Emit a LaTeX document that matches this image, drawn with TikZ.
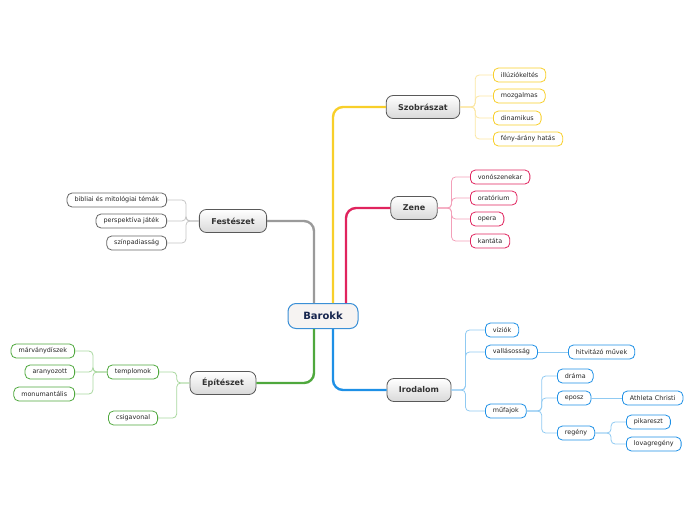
\documentclass[tikz,border=0pt]{standalone}
\usepackage{fontspec}
\setmainfont{DejaVu Sans}
\usetikzlibrary{positioning, calc}

\definecolor{rootblue}{HTML}{3A8FD6}
\definecolor{rootfill}{HTML}{F6F3F2}
\definecolor{navy}{HTML}{17264F}
\definecolor{ylw}{HTML}{F8CF2A}
\definecolor{ylwl}{HTML}{FBE6A2}
\definecolor{pnk}{HTML}{E0245E}
\definecolor{pnkl}{HTML}{F3A0B9}
\definecolor{gry}{HTML}{9A9A9A}
\definecolor{gryl}{HTML}{C4C4C4}
\definecolor{grn}{HTML}{4FA83D}
\definecolor{grnl}{HTML}{A8D79E}
\definecolor{blu}{HTML}{1E90E6}
\definecolor{blul}{HTML}{90CAF2}

\begin{document}
\begin{tikzpicture}[
      x=1pt, y=-1pt,
      root/.style={rounded corners=8pt, draw=rootblue, line width=1pt, fill=rootfill,
        text=navy, font=\bfseries\fontsize{10}{12}\selectfont,
        minimum width=70pt, minimum height=25pt},
      topic/.style={rounded corners=7pt, draw=black!65, line width=0.8pt,
        top color=white, bottom color=black!15, text=black!80,
        font=\bfseries\fontsize{8}{10}\selectfont, minimum height=23pt, inner xsep=12pt},
      leaf/.style={rounded corners=5pt, fill=white, line width=0.8pt, text=black!85,
        font=\fontsize{6.4}{7}\selectfont, minimum height=14pt, inner xsep=7.5pt, inner ysep=0pt},
      main/.style={line width=2.4pt, rounded corners=10pt},
      twig/.style={line width=0.8pt, rounded corners=4pt}
    ]
      \useasboundingbox (0,0) rectangle (696,520);

      % central topic and main branches
      \node[root] (barokk) at (323,316) {Barokk};
      \node[topic] (szob) at (423,107) {Szobrászat};
      \node[topic] (zene) at (414,208) {Zene};
      \node[topic] (fest) at (233,221) {Festészet};
      \node[topic] (epit) at (223,383) {Építészet};
      \node[topic] (irod) at (419,390) {Irodalom};

      \draw[main, ylw] ($(barokk.north)+(10,0)$) |- (szob.west);
      \draw[main, pnk] ($(barokk.north)+(23,0)$) |- (zene.west);
      \draw[main, gry] (fest.east) -| ($(barokk.north)+(-9,0)$);
      \draw[main, grn] ($(barokk.south)+(-9,0)$) |- (epit.east);
      \draw[main, blu] ($(barokk.south)+(10,0)$) |- (irod.west);

      % Szobrászat
      \node[leaf, draw=ylw, anchor=west] (illuz) at (493,75) {illúziókeltés};
      \node[leaf, draw=ylw, anchor=west] (mozg) at (493,96) {mozgalmas};
      \node[leaf, draw=ylw, anchor=west] (dinam) at (493,118) {dinamikus};
      \node[leaf, draw=ylw, anchor=west] (feny) at (493,139) {fény-árány hatás};
      \draw[twig, ylwl] (szob.east) -- ++(15,0) |- (illuz.west);
      \draw[twig, ylwl] (szob.east) -- ++(15,0) |- (mozg.west);
      \draw[twig, ylwl] (szob.east) -- ++(15,0) |- (dinam.west);
      \draw[twig, ylwl] (szob.east) -- ++(15,0) |- (feny.west);

      % Zene
      \node[leaf, draw=pnk, anchor=west] (vono) at (470,177) {vonószenekar};
      \node[leaf, draw=pnk, anchor=west] (orat) at (470,198) {oratórium};
      \node[leaf, draw=pnk, anchor=west] (opera) at (470,219) {opera};
      \node[leaf, draw=pnk, anchor=west] (kant) at (470,241) {kantáta};
      \draw[twig, pnkl] (zene.east) -- ++(14,0) |- (vono.west);
      \draw[twig, pnkl] (zene.east) -- ++(14,0) |- (orat.west);
      \draw[twig, pnkl] (zene.east) -- ++(14,0) |- (opera.west);
      \draw[twig, pnkl] (zene.east) -- ++(14,0) |- (kant.west);

      % Festészet
      \node[leaf, draw=black!60, anchor=east] (bibl) at (167,200) {bibliai és mitológiai témák};
      \node[leaf, draw=black!60, anchor=east] (persp) at (167,221) {perspektíva játék};
      \node[leaf, draw=black!60, anchor=east] (szinp) at (167,243) {színpadiasság};
      \draw[twig, gryl] (fest.west) -- ++(-13,0) |- (bibl.east);
      \draw[twig, gryl] (fest.west) -- ++(-13,0) |- (persp.east);
      \draw[twig, gryl] (fest.west) -- ++(-13,0) |- (szinp.east);

      % Építészet
      \node[leaf, draw=grn, anchor=east] (templ) at (159,372) {templomok};
      \node[leaf, draw=grn, anchor=east] (csiga) at (158,418) {csigavonal};
      \node[leaf, draw=grn, anchor=east] (marv) at (75,351) {márványdíszek};
      \node[leaf, draw=grn, anchor=east] (arany) at (75,372) {aranyozott};
      \node[leaf, draw=grn, anchor=east] (monum) at (75,394) {monumantális};
      \draw[twig, grnl] (epit.west) -- ++(-13,0) |- (templ.east);
      \draw[twig, grnl] (epit.west) -- ++(-13,0) |- (csiga.east);
      \draw[twig, grnl] (templ.west) -- ++(-14,0) |- (marv.east);
      \draw[twig, grnl] (templ.west) -- ++(-14,0) |- (arany.east);
      \draw[twig, grnl] (templ.west) -- ++(-14,0) |- (monum.east);

      % Irodalom
      \node[leaf, draw=blu, anchor=west] (vizio) at (485,330) {víziók};
      \node[leaf, draw=blu, anchor=west] (vall) at (485,352) {vallásosság};
      \node[leaf, draw=blu, anchor=west] (mufaj) at (485,411) {műfajok};
      \node[leaf, draw=blu, anchor=west] (hitv) at (568,352) {hitvitázó művek};
      \node[leaf, draw=blu, anchor=west] (drama) at (557,376) {dráma};
      \node[leaf, draw=blu, anchor=west] (eposz) at (557,398) {eposz};
      \node[leaf, draw=blu, anchor=west] (regeny) at (557,433) {regény};
      \node[leaf, draw=blu, anchor=west] (athleta) at (622,398) {Athleta Christi};
      \node[leaf, draw=blu, anchor=west] (pikar) at (626,422) {pikareszt};
      \node[leaf, draw=blu, anchor=west] (lovag) at (626,444) {lovagregény};
      \draw[twig, blul] (irod.east) -- ++(14,0) |- (vizio.west);
      \draw[twig, blul] (irod.east) -- ++(14,0) |- (vall.west);
      \draw[twig, blul] (irod.east) -- ++(14,0) |- (mufaj.west);
      \draw[twig, blul] (vall.east) -- (hitv.west);
      \draw[twig, blul] (mufaj.east) -- ++(15,0) |- (drama.west);
      \draw[twig, blul] (mufaj.east) -- ++(15,0) |- (eposz.west);
      \draw[twig, blul] (mufaj.east) -- ++(15,0) |- (regeny.west);
      \draw[twig, blul] (eposz.east) -- (athleta.west);
      \draw[twig, blul] (regeny.east) -- ++(16,0) |- (pikar.west);
      \draw[twig, blul] (regeny.east) -- ++(16,0) |- (lovag.west);
    \end{tikzpicture}
\end{document}
